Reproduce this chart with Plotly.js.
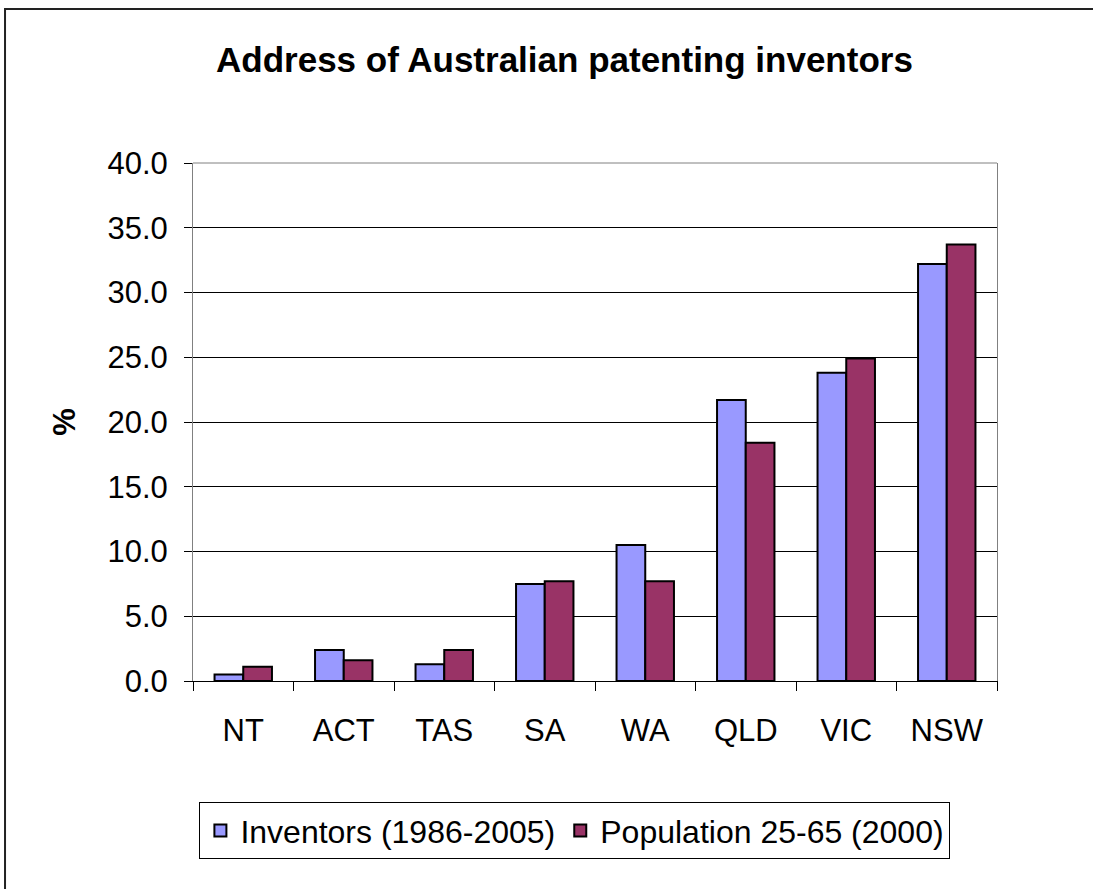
<!DOCTYPE html>
<html>
<head>
<meta charset="utf-8">
<script src="https://cdn.plot.ly/plotly-3.0.1.min.js"></script>
<style>html,body{margin:0;padding:0;background:#fff;}#chart{width:1093px;height:889px;}</style>
</head>
<body>
<div id="chart"></div>
<script>
const categories = ["NT", "ACT", "TAS", "SA", "WA", "QLD", "VIC", "NSW"];
const inventors = [0.5, 2.4, 1.3, 7.5, 10.5, 21.7, 23.8, 32.2];
const population = [1.1, 1.6, 2.4, 7.7, 7.7, 18.4, 24.9, 33.7];
const yTicks = [0, 5, 10, 15, 20, 25, 30, 35, 40];
const yTickText = yTicks.map(v => v.toFixed(1));

const FONT = "Liberation Sans, Arial, sans-serif";

const traces = [
  {type: "bar", name: "Inventors (1986-2005)", x: categories, y: inventors,
   marker: {color: "#9999FF", line: {color: "#000000", width: 2}}},
  {type: "bar", name: "Population 25-65 (2000)", x: categories, y: population,
   marker: {color: "#993366", line: {color: "#000000", width: 2}}}
];

const layout = {
  width: 1093, height: 889,
  paper_bgcolor: "#ffffff", plot_bgcolor: "#ffffff",
  margin: {l: 193, r: 96, t: 163, b: 208},
  barmode: "group", bargap: 0.4286, bargroupgap: 0,
  font: {family: FONT, color: "#000000"},
  title: {text: "<b>Address of Australian patenting inventors</b>",
          font: {family: FONT, size: 35, color: "#000"},
          xref: "paper", x: 0.462, xanchor: "center",
          yref: "container", y: 0.933, yanchor: "middle"},
  xaxis: {type: "category", tickson: "boundaries", ticks: "outside", ticklen: 9,
          tickcolor: "#000", tickwidth: 1, showline: true, linecolor: "#000", linewidth: 1,
          showgrid: false, tickfont: {family: FONT, size: 31, color: "#000"},
          ticklabelstandoff: 22, fixedrange: true},
  yaxis: {range: [0, 40], tickvals: yTicks, ticktext: yTickText, ticks: "outside", ticklen: 8,
          tickcolor: "#000", showline: true, mirror: true, linecolor: "#808080", linewidth: 1,
          showgrid: true, gridcolor: "#000000", gridwidth: 1, zeroline: false,
          tickfont: {family: FONT, size: 31, color: "#000"}, ticklabelstandoff: 10,
          title: {text: "<b>%</b>", font: {family: FONT, size: 31, color: "#000"}, standoff: 22},
          fixedrange: true},
  legend: {orientation: "h", x: 0.475, xanchor: "center", y: -0.234, yanchor: "top",
           bordercolor: "#000", borderwidth: 1, bgcolor: "#fff",
           font: {family: FONT, size: 32, color: "#000"}, itemclick: false, itemdoubleclick: false},
  shapes: [
    {type: "line", xref: "paper", yref: "paper", x0: 0, x1: 1, y0: 1, y1: 1,
     line: {color: "#808080", width: 1}, layer: "above"},
    {type: "rect", xref: "paper", yref: "paper", x0: -0.2338, x1: 1.13, y0: -0.43, y1: 1.2973,
     line: {color: "#222", width: 2}, layer: "below"}
  ],
  showlegend: true
};

Plotly.newPlot("chart", traces, layout, {displayModeBar: false, staticPlot: true});
</script>
</body>
</html>
